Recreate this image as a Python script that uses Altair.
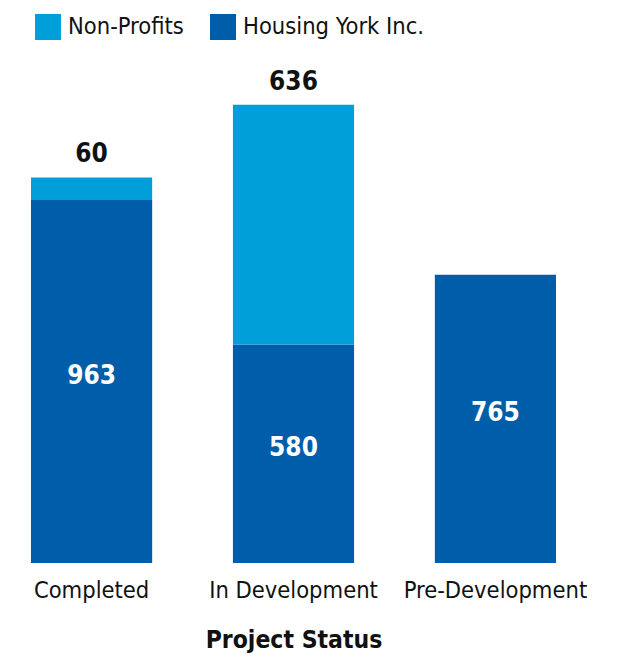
import altair as alt
import pandas as pd

statuses = ["Completed", "In Development", "Pre-Development"]
housing_york = [963, 580, 765]
non_profits = [60, 636, 0]
groups = ["Non-Profits", "Housing York Inc."]
colors = ["#009FDA", "#005DA9"]

FONT = "DejaVu Sans Condensed, sans-serif"

rows = []
for s, hy, np_ in zip(statuses, housing_york, non_profits):
    rows.append({"status": s, "group": "Housing York Inc.", "value": hy, "ord": 0,
                 "mid": hy / 2, "total": hy + np_, "label": str(hy)})
    rows.append({"status": s, "group": "Non-Profits", "value": np_, "ord": 1,
                 "mid": hy + np_ / 2, "total": hy + np_, "label": str(np_)})
df = pd.DataFrame(rows)

xenc = alt.X("status:N", sort=statuses, title="Project Status",
             scale=alt.Scale(paddingInner=0.4, paddingOuter=0),
             axis=alt.Axis(labelAngle=0, domain=False, ticks=False, labelPadding=15,
                           labelFontSize=23.5, labelFont=FONT, labelColor="#111",
                           labelLimit=0,
                           titleFontSize=24.5, titleFont=FONT, titleFontWeight="bold",
                           titleColor="#111", titlePadding=27))

bars = alt.Chart(df).mark_bar().encode(
    x=xenc,
    y=alt.Y("value:Q", stack="zero", axis=None, scale=alt.Scale(domain=[0, 1300])),
    color=alt.Color("group:N", scale=alt.Scale(domain=groups, range=colors),
                    legend=alt.Legend(title=None, orient="none", legendX=4, legendY=-59,
                                      direction="horizontal", symbolType="square",
                                      symbolSize=676, symbolStrokeWidth=0,
                                      labelFontSize=23.5, labelFont=FONT, labelColor="#111",
                                      labelLimit=0,
                                      labelOffset=7, columnPadding=26)),
    order=alt.Order("ord:Q"),
)

inner = alt.Chart(df[df.group == "Housing York Inc."]).mark_text(
    color="white", fontWeight="bold", fontSize=26, font=FONT, baseline="middle", dy=-6
).encode(x=alt.X("status:N", sort=statuses), y=alt.Y("mid:Q"), text="label:N")

top = alt.Chart(df[(df.group == "Non-Profits") & (df.value > 0)]).mark_text(
    color="#111", fontWeight="bold", fontSize=26, font=FONT, baseline="bottom", dy=-10
).encode(x=alt.X("status:N", sort=statuses), y=alt.Y("total:Q"), text="label:N")

chart = alt.layer(bars, inner, top).properties(
    width=525, height=490,
    autosize=alt.AutoSizeParams(type="none"),
    padding={"left": 23, "top": 65, "right": 50, "bottom": 90},
).configure_view(stroke=None)

chart.save("out.html", embed_options={"renderer": "svg", "actions": False})
